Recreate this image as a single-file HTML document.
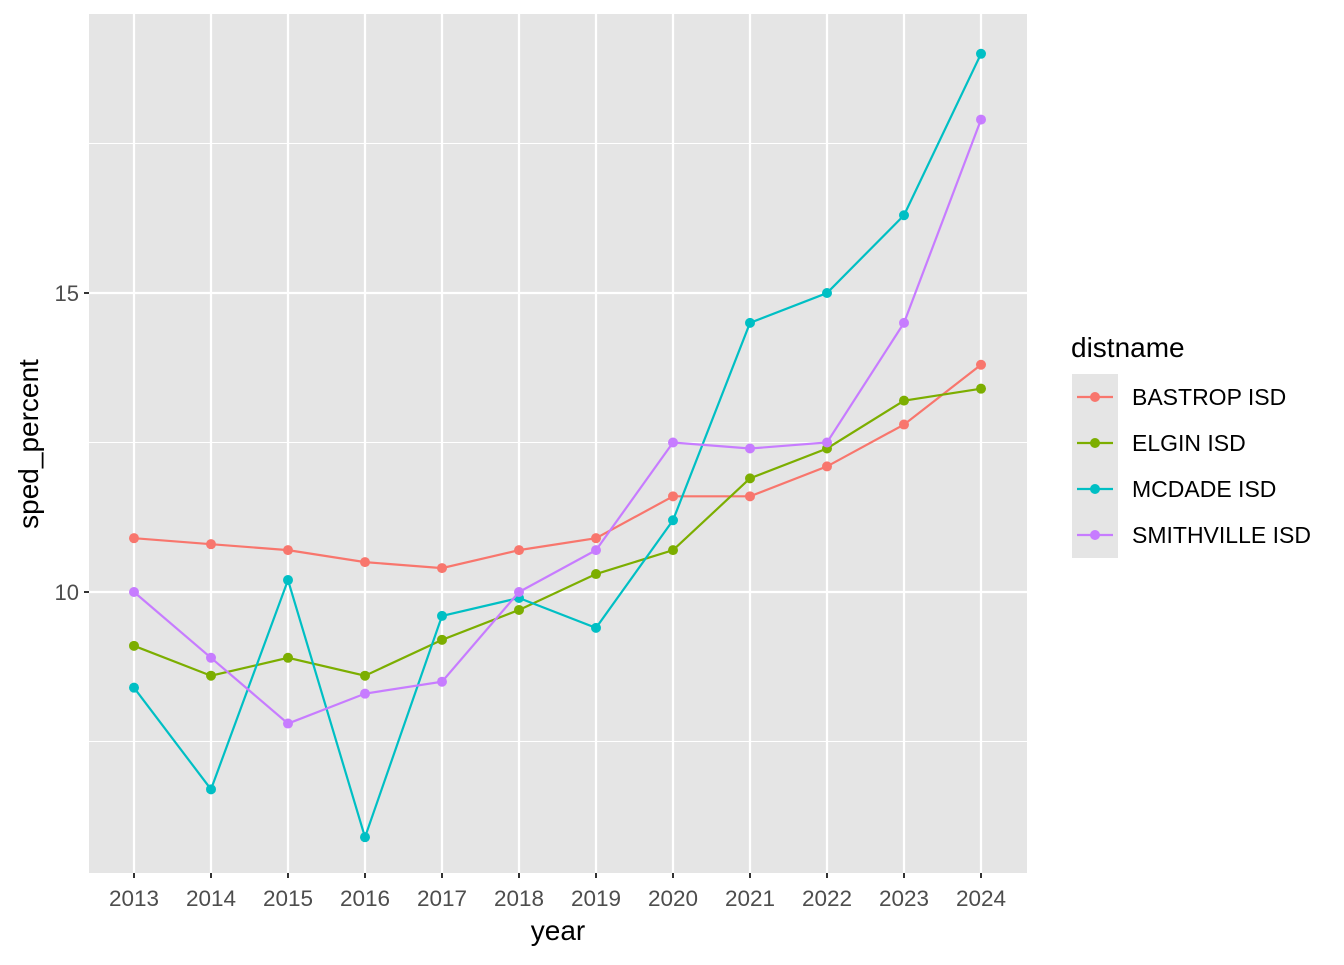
<!DOCTYPE html>
<html><head><meta charset="utf-8"><style>
body{margin:0;background:#fff;font-family:"Liberation Sans",Arial,sans-serif}
svg text{font-family:"Liberation Sans",Arial,sans-serif}
</style></head><body>
<svg id="c" width="1344" height="960" xmlns="http://www.w3.org/2000/svg"></svg>
<script>
const years=[2013,2014,2015,2016,2017,2018,2019,2020,2021,2022,2023,2024];
const seriesNames=["BASTROP ISD","ELGIN ISD","MCDADE ISD","SMITHVILLE ISD"];
const colors=["#F8766D","#7CAE00","#00BFC4","#C77CFF"];
const bastrop=[10.9,10.8,10.7,10.5,10.4,10.7,10.9,11.6,11.6,12.1,12.8,13.8];
const elgin=[9.1,8.6,8.9,8.6,9.2,9.7,10.3,10.7,11.9,12.4,13.2,13.4];
const mcdade=[8.4,6.7,10.2,5.9,9.6,9.9,9.4,11.2,14.5,15.0,16.3,19.0];
const smithville=[10.0,8.9,7.8,8.3,8.5,10.0,10.7,12.5,12.4,12.5,14.5,17.9];
const yTicks=[10,15];
const yMinor=[7.5,12.5,17.5];
const allSeries=[bastrop,elgin,mcdade,smithville];
const NS="http://www.w3.org/2000/svg";
const svg=document.getElementById('c');
const P={l:89,r:1027,t:14,b:873};
const x=yr=>134+(yr-2013)*77;
const y=v=>592-(v-10)*59.8;
function mk(t,a,p){const e=document.createElementNS(NS,t);for(const k in a)e.setAttribute(k,a[k]);(p||svg).appendChild(e);return e;}
const bg=mk('rect',{x:P.l,y:P.t,width:P.r-P.l,height:P.b-P.t,fill:'#E5E5E5'});


yMinor.forEach(v=>{const l=mk('line',{x1:P.l,x2:P.r,y1:y(v),y2:y(v),stroke:'#fff','stroke-width':1.1});

});
yTicks.forEach(v=>{const l=mk('line',{x1:P.l,x2:P.r,y1:y(v),y2:y(v),stroke:'#fff','stroke-width':2.2});


const tk=mk('line',{x1:P.l-5,x2:P.l,y1:y(v),y2:y(v),stroke:'#333','stroke-width':2});


const t=mk('text',{x:P.l-10,y:y(v)+8,'text-anchor':'end','font-size':22,fill:'#4D4D4D'});t.textContent=v;

});
years.forEach(yr=>{const l=mk('line',{x1:x(yr),x2:x(yr),y1:P.t,y2:P.b,stroke:'#fff','stroke-width':2.2});


const tk=mk('line',{x1:x(yr),x2:x(yr),y1:P.b,y2:P.b+5,stroke:'#333','stroke-width':2});


const t=mk('text',{x:x(yr),y:906,'text-anchor':'middle','font-size':22.5,fill:'#4D4D4D'});t.textContent=yr;

});
allSeries.forEach((s,i)=>{const g=mk('g',{});


const pl=mk('polyline',{points:s.map((v,j)=>x(years[j])+','+y(v)).join(' '),fill:'none',stroke:colors[i],'stroke-width':2.2},g);


s.forEach((v,j)=>{const c=mk('circle',{cx:x(years[j]),cy:y(v),r:5,fill:colors[i]},g);

});});
const xt=mk('text',{x:558,y:940,'text-anchor':'middle','font-size':28,fill:'#000'});xt.textContent='year';


const yt=mk('text',{x:0,y:0,'text-anchor':'middle','font-size':28,fill:'#000',transform:'translate(38,444) rotate(-90)'});yt.textContent='sped_percent';


const lt=mk('text',{x:1071,y:357,'font-size':28,fill:'#000'});lt.textContent='distname';


const lb=mk('rect',{x:1072,y:374,width:46,height:184,fill:'#E5E5E5'});


seriesNames.forEach((n,i)=>{const cy=397+i*46;const g=mk('g',{});


mk('line',{x1:1077,x2:1113,y1:cy,y2:cy,stroke:colors[i],'stroke-width':2.2},g);
mk('circle',{cx:1095,cy:cy,r:5,fill:colors[i]},g);
const t=mk('text',{x:1132,y:cy+8,'font-size':23,fill:'#000'},g);t.textContent=n;});
</script>
</body></html>
